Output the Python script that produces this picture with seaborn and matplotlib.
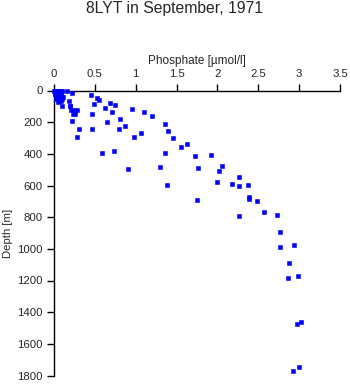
import matplotlib
matplotlib.use("Agg")
import matplotlib.pyplot as plt
import seaborn as sns
import pandas as pd

title = "8LYT in September, 1971"
x_label = "Phosphate [\u00b5mol/l]"
y_label = "Depth [m]"
x_ticks = [0, 0.5, 1, 1.5, 2, 2.5, 3, 3.5]
x_tick_labels = ["0", "0.5", "1", "1.5", "2", "2.5", "3", "3.5"]
y_ticks = [0, 200, 400, 600, 800, 1000, 1200, 1400, 1600, 1800]

phosphate = [
    0.00, 0.02, 0.04, 0.06, 0.08, 0.10, 0.03, 0.07, 0.01, 0.05, 0.09, 0.04, 0.08,
    0.11, 0.06, 0.03, 0.10, 0.09, 0.05, 0.10, 0.06, 0.10, 0.01,
    0.16, 0.22, 0.18, 0.19, 0.20, 0.205, 0.245, 0.28, 0.23, 0.26, 0.22, 0.30, 0.28,
    0.45, 0.53, 0.55, 0.49, 0.47, 0.47, 0.59, 0.63, 0.65, 0.69, 0.71, 0.75, 0.73,
    0.79, 0.81, 0.87, 0.91, 0.95, 0.98, 1.06, 1.10, 1.20, 1.30, 1.36, 1.36, 1.38,
    1.40, 1.46, 1.56, 1.63, 1.73, 1.92, 1.76, 2.06, 2.02, 2.27, 1.99, 2.18, 2.27,
    2.38, 1.75, 2.39, 2.39, 2.48, 2.26, 2.57, 2.73, 2.77, 2.77, 2.94, 2.88, 2.86,
    2.98, 2.97, 3.02, 3.00, 2.92,
]
depth = [
    0, 0, 0, 0, 0, 5, 10, 12, 20, 22, 20, 35, 35,
    40, 50, 55, 55, 69, 72, 97, 38, 42, 25,
    4, 17, 67, 98, 98, 124, 124, 124, 147, 147, 195, 244, 294,
    29, 48, 63, 88, 147, 244, 395, 111, 197, 78, 134, 92, 382,
    244, 179, 223, 496, 117, 294, 269, 136, 162, 483, 212, 395, 597,
    256, 300, 357, 338, 414, 410, 490, 479, 509, 547, 578, 591, 603,
    595, 692, 675, 685, 698, 793, 765, 784, 893, 988, 975, 1091, 1184,
    1171, 1476, 1461, 1748, 1770,
]

df = pd.DataFrame({"phosphate": phosphate, "depth": depth})

sns.set_style("ticks")
plt.rcParams["font.family"] = ["Liberation Sans", "DejaVu Sans"]

fig = plt.figure(figsize=(3.5, 3.84), dpi=100)
ax = fig.add_axes([54 / 350, 1 - 375.5 / 384, 286 / 350, 285 / 384])

sns.scatterplot(data=df, x="phosphate", y="depth", ax=ax, marker="s",
                s=5.0, color="#0000ff", edgecolor="#0000ff", linewidth=0.4,
                antialiased=False, clip_on=False, zorder=3)

ax.set_xlim(0, 3.5)
ax.set_ylim(1800, 0)
ax.xaxis.set_label_position("top")
ax.xaxis.tick_top()
ax.set_xticks(x_ticks)
ax.set_xticklabels(x_tick_labels)
ax.set_yticks(y_ticks)
ax.set_xlabel(x_label, fontsize=8.5, labelpad=4)
ax.set_ylabel(y_label, fontsize=8.2, labelpad=3)
ax.tick_params(axis="both", labelsize=8.2, length=5, width=1, color="black", pad=3)
for side in ["bottom", "right"]:
    ax.spines[side].set_visible(False)
for side in ["top", "left"]:
    ax.spines[side].set_color("black")
    ax.spines[side].set_linewidth(1)

fig.text(0.5, 1 - 9 / 384, title, ha="center", va="center", fontsize=11.3)

fig.savefig("out.png", dpi=100, facecolor="white")
